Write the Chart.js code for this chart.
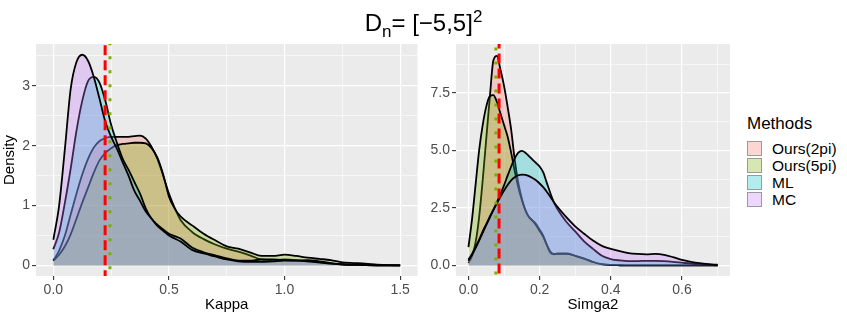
<!DOCTYPE html>
<html>
<head>
<meta charset="utf-8">
<script src="https://cdn.jsdelivr.net/npm/chart.js@4.4.1/dist/chart.umd.min.js"></script>
<style>
  body { margin: 0; background: #fff; font-family: "Liberation Sans", Arial, sans-serif; }
  #wrap { position: relative; width: 847px; height: 318px; overflow: hidden; }
  #kappaChart { position: absolute; left: 0; top: 0; }
  #sigmaChart { position: absolute; left: 422px; top: 0; }
  #title { position: absolute; left: 0; top: 9px; width: 847px; text-align: center; font-size: 24px; line-height: 28px; color: #000; }
  #title sub, #title sup { font-size: 17px; line-height: 0; }
  #legend { position: absolute; left: 747px; top: 114px; color: #000; }
  #legend .head { font-size: 17px; line-height: 20px; margin-bottom: 6px; }
  #legend .row { height: 17px; display: flex; align-items: center; font-size: 15.5px; }
  #legend .key { width: 13px; height: 13px; margin-right: 10px; border: 1px solid #9a9a9a; }
</style>
</head>
<body>
<div id="wrap">
  <canvas id="kappaChart" width="422" height="318"></canvas>
  <canvas id="sigmaChart" width="312" height="318"></canvas>
  <div id="title">D<sub>n</sub>= [&minus;5,5]<sup>2</sup></div>
  <div id="legend"></div>
</div>
<script>
// legend / groups
const methods = ['Ours(2pi)', 'Ours(5pi)', 'ML', 'MC'];
const methodColors = ['248,118,109', '124,174,0', '0,191,196', '199,124,255'];

// Kappa panel
const kappaX = [0, 0.025, 0.05, 0.075, 0.1, 0.125, 0.15, 0.175, 0.2, 0.225, 0.25, 0.275, 0.3, 0.325, 0.35, 0.375, 0.4, 0.425, 0.45, 0.475, 0.5,
  0.525, 0.55, 0.6, 0.65, 0.7, 0.75, 0.8, 0.85, 0.9, 0.95, 1.0, 1.05, 1.1, 1.15, 1.2, 1.25, 1.3, 1.35, 1.4, 1.45, 1.5];
const kappaOurs2pi = [0.08, 0.25, 0.5, 0.85, 1.2, 1.52, 1.78, 1.97, 2.08, 2.13, 2.15, 2.15, 2.15, 2.15, 2.16, 2.17, 2.12, 1.98, 1.78, 1.5, 1.2,
  0.96, 0.76, 0.56, 0.44, 0.35, 0.28, 0.23, 0.17, 0.1, 0.09, 0.1, 0.09, 0.07, 0.05, 0.03, 0.02, 0.01, 0.005, 0.002, 0.001, 0];
const kappaOurs5pi = [0.08, 0.18, 0.32, 0.52, 0.78, 1.05, 1.3, 1.55, 1.76, 1.88, 1.96, 2.01, 2.03, 2.04, 2.05, 2.05, 2.04, 1.96, 1.8, 1.52, 1.15,
  0.95, 0.82, 0.67, 0.53, 0.42, 0.32, 0.28, 0.22, 0.16, 0.16, 0.18, 0.16, 0.13, 0.11, 0.09, 0.05, 0.04, 0.03, 0.015, 0.005, 0];
const kappaML = [0.27, 0.55, 1.05, 1.62, 2.25, 2.75, 3.08, 3.15, 3.05, 2.75, 2.35, 2.05, 1.78, 1.6, 1.4, 1.2, 0.95, 0.78, 0.68, 0.6, 0.53,
  0.49, 0.45, 0.3, 0.22, 0.17, 0.12, 0.08, 0.08, 0.1, 0.1, 0.09, 0.08, 0.09, 0.07, 0.04, 0.02, 0.01, 0.005, 0.002, 0.001, 0];
const kappaMC = [0.43, 1.0, 1.95, 2.95, 3.4, 3.52, 3.42, 3.15, 2.78, 2.4, 2.15, 1.95, 1.72, 1.5, 1.25, 1.08, 0.9, 0.78, 0.66, 0.58, 0.5,
  0.45, 0.4, 0.26, 0.2, 0.15, 0.1, 0.07, 0.06, 0.06, 0.07, 0.08, 0.08, 0.07, 0.05, 0.03, 0.015, 0.01, 0.005, 0.002, 0.001, 0];
const kappaTicks = [0, 0.5, 1, 1.5];
const kappaTickLabels = ['0.0', '0.5', '1.0', '1.5'];
const kappaDensityTicks = [0, 1, 2, 3];
const kappaDensityLabels = ['0', '1', '2', '3'];
const kappaRedLine = 0.224;
const kappaGreenLine = 0.245;

// Simga2 panel
const sigmaX = [0, 0.01, 0.02, 0.03, 0.04, 0.05, 0.06, 0.07, 0.08, 0.09, 0.1, 0.11, 0.12, 0.13, 0.14, 0.15, 0.16, 0.17, 0.18, 0.19, 0.2,
  0.21, 0.22, 0.23, 0.24, 0.25, 0.275, 0.3, 0.325, 0.35, 0.375, 0.4, 0.425, 0.45, 0.475, 0.5, 0.525, 0.55, 0.575, 0.6, 0.625, 0.65, 0.675, 0.7];
const sigmaOurs2pi = [0.1, 0.4, 1.0, 2.1, 3.7, 5.5, 7.3, 8.9, 9.1, 8.5, 7.8, 6.9, 5.9, 4.6, 3.6, 2.9, 2.4, 2.1, 1.95, 1.8, 1.55,
  1.3, 0.9, 0.55, 0.48, 0.52, 0.52, 0.42, 0.3, 0.15, 0.05, 0.02, 0.01, 0.005, 0, 0, 0, 0, 0, 0, 0, 0, 0, 0];
const sigmaOurs5pi = [0.8, 2.0, 3.5, 5.0, 6.1, 6.9, 7.35, 7.4, 7.1, 6.6, 6.1, 5.6, 4.9, 4.1, 3.4, 2.85, 2.4, 2.1, 1.95, 1.75, 1.5,
  1.25, 0.9, 0.6, 0.5, 0.5, 0.5, 0.42, 0.3, 0.15, 0.06, 0.02, 0.01, 0.005, 0, 0, 0, 0, 0, 0, 0, 0, 0, 0];
const sigmaML = [0.25, 0.5, 0.8, 1.12, 1.48, 1.8, 2.12, 2.42, 2.75, 3.1, 3.48, 3.9, 4.3, 4.65, 4.9, 4.98, 4.9, 4.75, 4.6, 4.45, 4.3,
  4.05, 3.6, 3.15, 2.75, 2.45, 1.9, 1.48, 1.05, 0.72, 0.42, 0.28, 0.22, 0.19, 0.19, 0.2, 0.2, 0.19, 0.16, 0.12, 0.08, 0.05, 0.03, 0.01];
const sigmaMC = [0.2, 0.45, 0.75, 1.08, 1.42, 1.75, 2.08, 2.4, 2.7, 2.98, 3.25, 3.5, 3.7, 3.83, 3.92, 3.95, 3.93, 3.88, 3.8, 3.7, 3.56,
  3.4, 3.2, 2.98, 2.75, 2.55, 2.1, 1.7, 1.38, 1.08, 0.85, 0.72, 0.62, 0.54, 0.5, 0.48, 0.5, 0.46, 0.36, 0.24, 0.16, 0.1, 0.06, 0.03];
const sigmaTicks = [0, 0.2, 0.4, 0.6];
const sigmaTickLabels = ['0.0', '0.2', '0.4', '0.6'];
const sigmaDensityTicks = [0, 2.5, 5, 7.5];
const sigmaDensityLabels = ['0.0', '2.5', '5.0', '7.5'];
const sigmaRedLine = 0.086;
const sigmaGreenLine = 0.077;

const FONT = '"Liberation Sans", Arial, sans-serif';

const panelBg = {
  id: 'panelBg',
  beforeDraw(chart) {
    const a = chart.chartArea;
    chart.ctx.save();
    chart.ctx.fillStyle = '#EBEBEB';
    chart.ctx.fillRect(a.left, a.top, a.right - a.left, a.bottom - a.top);
    chart.ctx.restore();
  }
};

function pts(xs, ys) {
  return xs.map((x, i) => ({ x: x, y: ys[i] }));
}

function densitySets(xs, series) {
  return series.map((ys, i) => ({
    label: methods[i],
    data: pts(xs, ys),
    backgroundColor: 'rgba(' + methodColors[i] + ',0.3)',
    borderColor: '#000',
    borderWidth: 1.8,
    fill: 'origin',
    pointRadius: 0,
    tension: 0.4,
    cubicInterpolationMode: 'monotone',
    order: 4 - i
  }));
}

function vline(x, color, dash, lo, hi) {
  return {
    data: [{ x: x, y: lo }, { x: x, y: hi }],
    borderColor: color,
    borderWidth: 3,
    borderDash: dash,
    pointRadius: 0,
    fill: false,
    order: 0
  };
}

// majors plus the halfway minor lines
function withMinors(majors, lo, hi) {
  const step = majors[1] - majors[0];
  const out = [];
  for (let v = majors[0] - step / 2; v <= hi + 1e-9; v += step / 2) {
    if (v >= lo - 1e-9) out.push(+v.toFixed(6));
  }
  return out;
}

function isMajor(majors, v) {
  return majors.some(m => Math.abs(m - v) < 1e-6);
}

function axis(majors, labels, min, max, fit, titleText) {
  const all = withMinors(majors, min, max);
  return {
    type: 'linear',
    min: min,
    max: max,
    afterBuildTicks: s => { s.ticks = all.map(v => ({ value: v })); },
    afterFit: fit,
    border: { display: false },
    grid: {
      color: '#FFFFFF',
      lineWidth: c => (c.tick && isMajor(majors, c.tick.value) ? 1.2 : 0.6),
      drawTicks: true,
      tickLength: 4,
      tickWidth: 1.1,
      tickColor: c => (c.tick && isMajor(majors, c.tick.value) ? '#333333' : 'rgba(0,0,0,0)')
    },
    ticks: {
      autoSkip: false,
      maxRotation: 0,
      padding: 2,
      color: '#4D4D4D',
      font: { family: FONT, size: 14 },
      callback: v => {
        const k = majors.findIndex(m => Math.abs(m - v) < 1e-6);
        return k >= 0 ? labels[k] : '';
      }
    },
    title: titleText ? {
      display: true,
      text: titleText,
      color: '#000',
      font: { family: FONT, size: 15 },
      padding: { top: 1, bottom: 4 }
    } : { display: false }
  };
}

document.addEventListener('DOMContentLoaded', () => {
  new Chart(document.getElementById('kappaChart'), {
    type: 'line',
    data: {
      datasets: [
        vline(kappaRedLine, '#FF0000', [10, 5], -1, 5),
        vline(kappaGreenLine, '#7CAE00', [3, 11], -1, 5)
      ].concat(densitySets(kappaX, [kappaOurs2pi, kappaOurs5pi, kappaML, kappaMC]))
    },
    options: {
      responsive: false,
      animation: false,
      devicePixelRatio: 1,
      layout: { padding: { top: 44, right: 4.5, left: 0, bottom: 0 } },
      plugins: { legend: { display: false }, tooltip: { enabled: false } },
      scales: {
        x: axis(kappaTicks, kappaTickLabels, -0.075, 1.575, s => { s.height = 42; }, 'Kappa'),
        y: axis(kappaDensityTicks, kappaDensityLabels, -0.176, 3.70, s => { s.width = 36; }, 'Density')
      }
    },
    plugins: [panelBg]
  });

  new Chart(document.getElementById('sigmaChart'), {
    type: 'line',
    data: {
      datasets: [
        vline(sigmaRedLine, '#FF0000', [10, 5], -1, 11),
        vline(sigmaGreenLine, '#7CAE00', [3, 11], -1, 11)
      ].concat(densitySets(sigmaX, [sigmaOurs2pi, sigmaOurs5pi, sigmaML, sigmaMC]))
    },
    options: {
      responsive: false,
      animation: false,
      devicePixelRatio: 1,
      layout: { padding: { top: 44, right: 4, left: 0, bottom: 0 } },
      plugins: { legend: { display: false }, tooltip: { enabled: false } },
      scales: {
        x: axis(sigmaTicks, sigmaTickLabels, -0.035, 0.735, s => { s.height = 42; }, 'Simga2'),
        y: axis(sigmaDensityTicks, sigmaDensityLabels, -0.458, 9.62, s => { s.width = 34; }, null)
      }
    },
    plugins: [panelBg]
  });

  const legend = document.getElementById('legend');
  let html = '<div class="head">Methods</div>';
  methods.forEach((m, i) => {
    html += '<div class="row"><div class="key" style="background:rgba(' + methodColors[i] + ',0.3)"></div>' + m + '</div>';
  });
  legend.innerHTML = html;
});
</script>
</body>
</html>
